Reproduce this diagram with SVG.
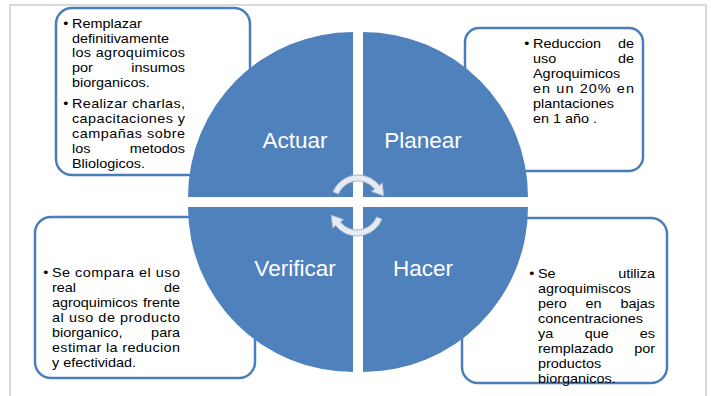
<svg xmlns="http://www.w3.org/2000/svg" width="711" height="396" viewBox="0 0 711 396">
<style>
.box{fill:#ffffff;stroke:#4a7ebb;stroke-width:2.5}
.q{fill:#4f81bd}
.lbl{font-family:"Liberation Sans",Arial,sans-serif;font-size:22.5px;fill:#ffffff;text-anchor:middle}
.t{font-family:"Liberation Sans",Arial,sans-serif;font-size:13px;fill:#000000}
.e{text-anchor:end}
.arr{fill:#e6ebf3;stroke:#a3b3c9;stroke-width:1}
</style>
<rect x="0" y="0" width="711" height="396" fill="#ffffff"/>
<path d="M10,396 L10,5 L706,5 L706,396" fill="none" stroke="#d9d9d9" stroke-width="2"/>

<g id="box-actuar">
<rect class="box" x="56" y="8" width="194" height="167" rx="16"/>
<g transform="translate(72,0) scale(1.11,1)">
<text class="t" x="-8" y="28">•</text>
<text class="t" x="0" y="28">Remplazar</text>
<text class="t" x="0" y="42.75">definitivamente</text>
<text class="t" x="0" y="57.5" textLength="101.8" lengthAdjust="spacing">los agroquimicos</text>
<text class="t" x="0" y="72.25">por</text><text class="t e" x="101.8" y="72.25">insumos</text>
<text class="t" x="0" y="87">biorganicos.</text>
<text class="t" x="-8" y="108">•</text>
<text class="t" x="0" y="108" textLength="101.8" lengthAdjust="spacing">Realizar charlas,</text>
<text class="t" x="0" y="123" textLength="101.8" lengthAdjust="spacing">capacitaciones y</text>
<text class="t" x="0" y="138" textLength="101.8" lengthAdjust="spacing">campañas sobre</text>
<text class="t" x="0" y="153">los</text><text class="t e" x="101.8" y="153">metodos</text>
<text class="t" x="0" y="168">Bliologicos.</text>
</g>
</g>

<g id="box-planear">
<rect class="box" x="465" y="28" width="178" height="143" rx="14"/>
<g transform="translate(533,0) scale(1.11,1)">
<text class="t" x="-8" y="48">•</text>
<text class="t" x="0" y="48">Reduccion</text><text class="t e" x="91" y="48">de</text>
<text class="t" x="0" y="63">uso</text><text class="t e" x="91" y="63">de</text>
<text class="t" x="0" y="78">Agroquimicos</text>
<text class="t" x="0" y="93" textLength="91" lengthAdjust="spacing">en un 20% en</text>
<text class="t" x="0" y="108">plantaciones</text>
<text class="t" x="0" y="123">en 1 año .</text>
</g>
</g>

<g id="box-verificar">
<rect class="box" x="35" y="217" width="220" height="161" rx="16"/>
<g transform="translate(52,0) scale(1.11,1)">
<text class="t" x="-8" y="277">•</text>
<text class="t" x="0" y="277" textLength="115.3" lengthAdjust="spacing">Se compara el uso</text>
<text class="t" x="0" y="292">real</text><text class="t e" x="115.3" y="292">de</text>
<text class="t" x="0" y="307">agroquimicos</text><text class="t e" x="115.3" y="307">frente</text>
<text class="t" x="0" y="322" textLength="115.3" lengthAdjust="spacing">al uso de producto</text>
<text class="t" x="0" y="337">biorganico,</text><text class="t e" x="115.3" y="337">para</text>
<text class="t" x="0" y="352" textLength="115.3" lengthAdjust="spacing">estimar la reducion</text>
<text class="t" x="0" y="367">y efectividad.</text>
</g>
</g>

<g id="box-hacer">
<rect class="box" x="462" y="218" width="205" height="165" rx="16"/>
<g transform="translate(538,0) scale(1.11,1)">
<text class="t" x="-8" y="278">•</text>
<text class="t" x="0" y="278">Se</text><text class="t e" x="105.4" y="278">utiliza</text>
<text class="t" x="0" y="293">agroquimiscos</text>
<text class="t" x="0" y="308">pero</text><text class="t" x="50" y="308" text-anchor="middle">en</text><text class="t e" x="105.4" y="308">bajas</text>
<text class="t" x="0" y="323">concentraciones</text>
<text class="t" x="0" y="338">ya</text><text class="t" x="53" y="338" text-anchor="middle">que</text><text class="t e" x="105.4" y="338">es</text>
<text class="t" x="0" y="353">remplazado</text><text class="t e" x="105.4" y="353">por</text>
<text class="t" x="0" y="368">productos</text>
<text class="t" x="0" y="383">biorganicos.</text>
</g>
</g>

<g id="quad-actuar">
<path class="q" d="M353,197 L188,197 A165,165 0 0 1 353,32 Z"/>
<text class="lbl" x="295" y="148">Actuar</text>
</g>
<g id="quad-planear">
<path class="q" d="M363,197 L363,32 A165,165 0 0 1 528,197 Z"/>
<text class="lbl" x="423" y="148">Planear</text>
</g>
<g id="quad-hacer">
<path class="q" d="M363,207 L528,207 A165,165 0 0 1 363,372 Z"/>
<text class="lbl" x="423" y="276">Hacer</text>
</g>
<g id="quad-verificar">
<path class="q" d="M353,207 L353,372 A165,165 0 0 1 188,207 Z"/>
<text class="lbl" x="295" y="276">Verificar</text>
</g>

<g id="connectors">
<path class="arr" d="M333,191.9 A27,27 0 0 1 379.3,185.4 L382.4,182.9 L383.7,195.9 L371.4,191.5 L374.5,189.1 A21,21 0 0 0 338.5,194.1 Z"/>
<path class="arr" d="M382,219.1 A27,27 0 0 1 335.7,225.6 L332.6,228.1 L331.3,215.1 L343.6,219.5 L340.5,221.9 A21,21 0 0 0 376.5,216.9 Z"/>
</g>
</svg>
